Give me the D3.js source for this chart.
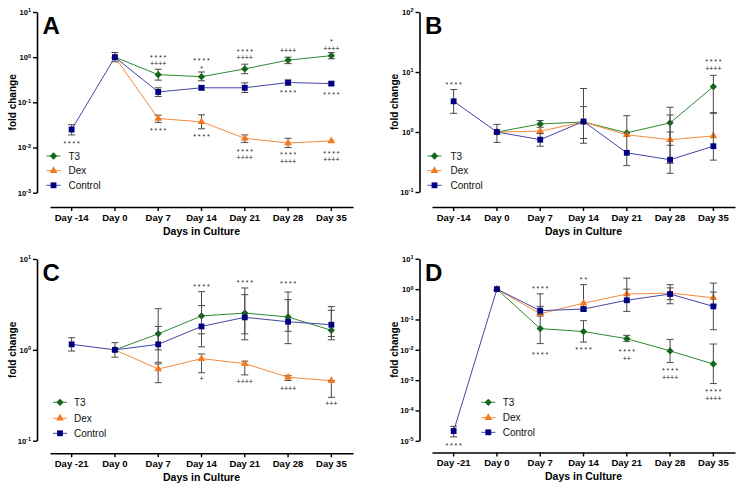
<!DOCTYPE html>
<html>
<head>
<meta charset="utf-8">
<script src="https://cdn.jsdelivr.net/npm/d3@7"></script>
<style>
  body { margin: 0; background: #fff; }
  svg { font-family: Arial, "Liberation Sans", sans-serif; }
</style>
</head>
<body>
<div id="chart"></div>
<script>
// ---- data ----
const daysAB = ["Day -14", "Day 0", "Day 7", "Day 14", "Day 21", "Day 28", "Day 35"];
const daysCD = ["Day -21", "Day 0", "Day 7", "Day 14", "Day 21", "Day 28", "Day 35"];
const seriesNames = ["T3", "Dex", "Control"];

// panel A
const aTicks = [1e-3, 1e-2, 1e-1, 1e0, 1e1];
const aT3 = [null, 1.0, 0.41, 0.37, 0.55, 0.86, 1.08];
const aT3Hi = [null, null, 0.54, 0.47, 0.70, 1.0, 1.26];
const aT3Lo = [null, null, 0.31, 0.30, 0.43, 0.72, 0.92];
const aDex = [null, 1.0, 0.044, 0.037, 0.016, 0.0126, 0.014];
const aDexHi = [null, null, 0.052, 0.053, 0.019, 0.016, null];
const aDexLo = [null, null, 0.036, 0.026, 0.013, 0.010, null];
const aCtrl = [0.025, 1.0, 0.17, 0.21, 0.21, 0.275, 0.26];
const aCtrlHi = [0.032, 1.27, 0.21, 0.23, 0.27, 0.31, 0.28];
const aCtrlLo = [0.019, 0.79, 0.135, 0.19, 0.165, 0.24, 0.24];
const aNotes = [
  ["Day -14", 0.0135, ["****"]],
  ["Day 7", 1.08, ["****", "++++"]],
  ["Day 7", 0.0258, ["****"]],
  ["Day 14", 0.92, ["****", "*"]],
  ["Day 14", 0.0192, ["****"]],
  ["Day 21", 1.48, ["****", "++++"]],
  ["Day 21", 0.0090, ["****", "++++"]],
  ["Day 28", 1.42, ["++++"]],
  ["Day 28", 0.176, ["****"]],
  ["Day 28", 0.0075, ["****", "++++"]],
  ["Day 35", 2.37, ["*", "++++"]],
  ["Day 35", 0.161, ["****"]],
  ["Day 35", 0.0082, ["****", "++++"]]
];

// panel B
const bTicks = [1e-1, 1e0, 1e1, 1e2];
const bT3 = [null, 1.0, 1.36, 1.47, 0.97, 1.42, 5.7];
const bT3Hi = [null, null, 1.55, 5.3, null, 2.58, 8.8];
const bT3Lo = [null, null, 1.2, 0.65, null, 0.30, 2.1];
const bDex = [null, 1.0, 1.03, 1.47, 0.90, 0.745, 0.86];
const bDexHi = [null, null, null, 2.65, null, 1.92, null];
const bDexLo = [null, null, null, 0.78, null, 0.6, null];
const bCtrl = [3.25, 1.0, 0.745, 1.5, 0.45, 0.345, 0.58];
const bCtrlHi = [5.1, 1.34, 0.94, null, 1.87, 1.0, 2.05];
const bCtrlLo = [2.05, 0.67, 0.58, null, 0.275, 0.205, 0.34];
const bNotes = [
  ["Day -14", 6.5, ["****"]],
  ["Day 35", 15.8, ["****", "++++"]]
];

// panel C
const cTicks = [1e-1, 1e0, 1e1];
const cT3 = [null, 1.0, 1.5, 2.36, 2.54, 2.3, 1.64];
const cT3Hi = [null, null, 2.84, 4.37, 4.8, 4.33, 2.72];
const cT3Lo = [null, null, 0.73, 1.08, 1.29, 1.17, 1.4];
const cDex = [null, 1.0, 0.615, 0.80, 0.705, 0.50, 0.457];
const cDexHi = [null, null, 0.70, 0.90, 0.75, 0.52, 0.46];
const cDexLo = [null, null, 0.435, 0.56, 0.53, 0.46, 0.30];
const cCtrl = [1.15, 1.0, 1.15, 1.81, 2.28, 2.04, 1.89];
const cCtrlHi = [1.36, 1.2, 1.81, 3.07, 4.05, 3.57, 2.99];
const cCtrlLo = [0.97, 0.83, 1.0, 1.5, 1.5, 1.6, 1.29];
const cNotes = [
  ["Day 14", 5.18, ["****"]],
  ["Day 14", 0.478, ["+"]],
  ["Day 21", 5.78, ["****"]],
  ["Day 21", 0.451, ["++++"]],
  ["Day 28", 5.55, ["****"]],
  ["Day 28", 0.371, ["++++"]],
  ["Day 35", 0.254, ["+++"]]
];

// panel D
const dTicks = [1e-5, 1e-4, 1e-3, 1e-2, 1e-1, 1e0, 1e1];
const dT3 = [null, 1.0, 0.05, 0.04, 0.0233, 0.0092, 0.0034];
const dT3Hi = [null, null, 0.27, 0.091, 0.03, 0.022, 0.0155];
const dT3Lo = [null, null, 0.016, 0.018, 0.019, 0.0038, 0.00077];
const dDex = [null, 1.0, 0.155, 0.345, 0.69, 0.74, 0.52];
const dDexHi = [null, null, 0.2, 1.4, 2.3, 1.1, 1.58];
const dDexLo = [null, null, 0.13, 0.2, 0.4, 0.45, 0.3];
const dCtrl = [2.1e-5, 1.0, 0.195, 0.22, 0.43, 0.69, 0.27];
const dCtrlHi = [3.0e-5, null, 0.70, 0.25, 1.0, 1.4, 0.8];
const dCtrlLo = [1.35e-5, null, 0.15, 0.19, 0.185, 0.33, 0.046];
const dNotes = [
  ["Day -21", 7.8e-6, ["****"]],
  ["Day 7", 1.15, ["****"]],
  ["Day 7", 0.0082, ["****"]],
  ["Day 14", 2.27, ["**"]],
  ["Day 14", 0.0117, ["****"]],
  ["Day 21", 0.0100, ["****", "++"]],
  ["Day 28", 0.00235, ["****", "++++"]],
  ["Day 35", 0.00046, ["****", "++++"]]
];

// ---- styling ----
const style = {
  T3: { line: "#2f8a2f", fill: "#13661a", symbol: d3.symbolDiamond2, size: 34 },
  Dex: { line: "#f58a3c", fill: "#f47920", symbol: d3.symbolTriangle, size: 26 },
  Control: { line: "#4545a8", fill: "#000080", symbol: d3.symbolSquare, size: 34 }
};

const svg = d3.select("#chart").append("svg")
  .attr("width", 743)
  .attr("height", 491);

const panels = [
  { label: "A", days: daysAB, ticks: aTicks, yRange: [192.7, 12], yAxisX: 37, xRange: [50, 353], xAxisY: 207,
    series: [[aT3, aT3Hi, aT3Lo], [aDex, aDexHi, aDexLo], [aCtrl, aCtrlHi, aCtrlLo]], notes: aNotes,
    legend: { x: 53.5, text: 68.5, rows: [156, 170.7, 185.3] } },
  { label: "B", days: daysAB, ticks: bTicks, yRange: [192, 12], yAxisX: 419.5, xRange: [432, 735], xAxisY: 207,
    series: [[bT3, bT3Hi, bT3Lo], [bDex, bDexHi, bDexLo], [bCtrl, bCtrlHi, bCtrlLo]], notes: bNotes,
    legend: { x: 434.5, text: 450.5, rows: [156, 170.7, 185.3] } },
  { label: "C", days: daysCD, ticks: cTicks, yRange: [440.7, 259], yAxisX: 37, xRange: [50, 353], xAxisY: 453.3,
    series: [[cT3, cT3Hi, cT3Lo], [cDex, cDexHi, cDexLo], [cCtrl, cCtrlHi, cCtrlLo]], notes: cNotes,
    legend: { x: 60, text: 74, rows: [402.3, 418.3, 433.3] } },
  { label: "D", days: daysCD, ticks: dTicks, yRange: [440.8, 258.8], yAxisX: 419.5, xRange: [432, 735], xAxisY: 452.5,
    series: [[dT3, dT3Hi, dT3Lo], [dDex, dDexHi, dDexLo], [dCtrl, dCtrlHi, dCtrlLo]], notes: dNotes,
    legend: { x: 488.3, text: 502.7, rows: [402.3, 417.7, 432.3] } }
];

panels.forEach(drawPanel);

function drawPanel(p) {
  const g = svg.append("g");

  const x = d3.scaleBand().domain(p.days).range(p.xRange);
  const cx = d => x(d) + x.bandwidth() / 2;
  const y = d3.scaleLog()
    .domain([p.ticks[0], p.ticks[p.ticks.length - 1]])
    .range(p.yRange);

  // y axis, labels as 10 with superscript exponent
  const yAxis = d3.axisLeft(y)
    .tickValues(p.ticks)
    .tickSize(4)
    .tickSizeOuter(0)
    .tickPadding(2)
    .tickFormat("");

  const ya = g.append("g")
    .attr("transform", "translate(" + p.yAxisX + ",0)")
    .call(yAxis);
  ya.selectAll(".tick text").each(function (d) {
    const t = d3.select(this);
    t.text("10");
    t.append("tspan")
      .attr("dy", "-0.45em")
      .style("font-size", "5.5px")
      .text(Math.round(Math.log10(d)));
  });
  ya.selectAll("text")
    .style("font-size", "7.5px")
    .style("font-weight", "bold")
    .attr("fill", "#000");
  ya.select(".domain").attr("stroke-width", 1.6);
  ya.selectAll(".tick line").attr("stroke-width", 1.4);

  // x axis
  const xAxis = d3.axisBottom(x)
    .tickSize(4)
    .tickSizeOuter(0)
    .tickPadding(3);
  const xa = g.append("g")
    .attr("transform", "translate(0," + p.xAxisY + ")")
    .call(xAxis);
  xa.selectAll("text")
    .style("font-size", "9.5px")
    .style("font-weight", "bold")
    .attr("fill", "#000");
  xa.select(".domain").attr("stroke-width", 1.6);
  xa.selectAll(".tick line").attr("stroke-width", 1.4);

  // axis titles
  g.append("text")
    .attr("x", (p.xRange[0] + p.xRange[1]) / 2)
    .attr("y", p.xAxisY + 27.5)
    .attr("text-anchor", "middle")
    .style("font-size", "10.5px")
    .style("font-weight", "bold")
    .text("Days in Culture");

  const yMid = (p.yRange[0] + p.yRange[1]) / 2;
  g.append("text")
    .attr("transform", "translate(" + (p.yAxisX - 21.5) + "," + yMid + ") rotate(-90)")
    .attr("text-anchor", "middle")
    .style("font-size", "10px")
    .style("font-weight", "bold")
    .text("fold change");

  // panel letter
  g.append("text")
    .attr("x", p.yAxisX + 5.5)
    .attr("y", p.yRange[1] + 22)
    .style("font-size", "24px")
    .style("font-weight", "bold")
    .text(p.label);

  // series: T3, Dex, Control (Control on top)
  p.series.forEach((s, si) => {
    const name = seriesNames[si];
    const st = style[name];
    const pts = p.days.map((d, i) => ({ day: d, v: s[0][i], hi: s[1][i], lo: s[2][i] }));

    const line = d3.line()
      .defined(d => d.v != null)
      .x(d => cx(d.day))
      .y(d => y(d.v));

    g.append("path")
      .datum(pts)
      .attr("fill", "none")
      .attr("stroke", st.line)
      .attr("stroke-width", 1)
      .attr("d", line);

    const err = pts.filter(d => d.v != null && d.hi != null);
    const eg = g.append("g").attr("stroke", "#4a4a4a").attr("stroke-width", 1);
    err.forEach(d => {
      const px = cx(d.day);
      eg.append("line").attr("x1", px).attr("x2", px).attr("y1", y(d.hi)).attr("y2", y(d.lo));
      eg.append("line").attr("x1", px - 3.5).attr("x2", px + 3.5).attr("y1", y(d.hi)).attr("y2", y(d.hi));
      eg.append("line").attr("x1", px - 3.5).attr("x2", px + 3.5).attr("y1", y(d.lo)).attr("y2", y(d.lo));
    });

    g.selectAll(null)
      .data(pts.filter(d => d.v != null))
      .enter().append("path")
      .attr("transform", d => "translate(" + cx(d.day) + "," + y(d.v) + ")")
      .attr("d", d3.symbol().type(st.symbol).size(st.size))
      .attr("fill", st.fill);

    // legend row
    const ly = p.legend.rows[si];
    g.append("line")
      .attr("x1", p.legend.x - 7).attr("x2", p.legend.x + 7)
      .attr("y1", ly).attr("y2", ly)
      .attr("stroke", st.line).attr("stroke-width", 1);
    g.append("path")
      .attr("transform", "translate(" + p.legend.x + "," + ly + ")")
      .attr("d", d3.symbol().type(st.symbol).size(st.size))
      .attr("fill", st.fill);
    g.append("text")
      .attr("x", p.legend.text)
      .attr("y", ly + 3.6)
      .style("font-size", "10px")
      .attr("fill", "#111")
      .text(name);
  });

  // significance marks, one text per stack, one tspan per line
  p.notes.forEach(n => {
    const px = cx(n[0]);
    const y0 = y(n[1]);
    const t = g.append("text")
      .attr("text-anchor", "middle")
      .style("font-size", "7px")
      .attr("fill", "#222");
    n[2].forEach((txt, i) => {
      const star = txt.indexOf("*") >= 0;
      t.append("tspan")
        .attr("x", px + (star ? 0.9 : 0))
        .attr("y", y0 + i * 8.2 + (star ? 4.1 : 2.5))
        .style("letter-spacing", star ? "1.8px" : "0px")
        .text(txt);
    });
  });
}
</script>
</body>
</html>
